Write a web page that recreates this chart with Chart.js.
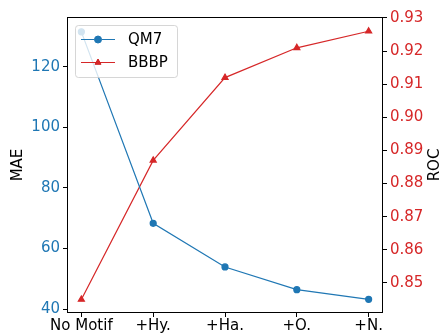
<!DOCTYPE html>
<html>
<head>
<meta charset="utf-8">
<script src="https://cdn.jsdelivr.net/npm/chart.js@4"></script>
<style>
  html, body { margin: 0; padding: 0; background: #fff; }
  #wrap { width: 442px; height: 333px; }
</style>
</head>
<body>
<div id="wrap"><canvas id="chart" width="442" height="333"></canvas></div>
<script>
// data
const categories = ['No Motif', '+Hy.', '+Ha.', '+O.', '+N.'];
const qm7Mae = [131.5, 68.3, 53.9, 46.4, 43.2];
const bbbpRoc = [0.845, 0.887, 0.912, 0.921, 0.926];
const maeTicks = [40, 60, 80, 100, 120];
const rocTicks = [0.85, 0.86, 0.87, 0.88, 0.89, 0.90, 0.91, 0.92, 0.93];

const blue = '#1f77b4';
const red = '#d62728';
const font = 'DejaVu Sans';

// frame, axis titles and legend drawn like matplotlib
const framePlugin = {
    id: 'frame',
    afterDatasetsDraw(chart) {
        const ctx = chart.ctx;
        const a = chart.chartArea;
        ctx.save();
        ctx.strokeStyle = '#000';
        ctx.lineWidth = 1;
        ctx.strokeRect(a.left + 0.5, a.top + 0.5, a.right - a.left - 1, a.bottom - a.top - 1);

        // axis titles, both reading bottom to top
        ctx.fillStyle = '#000';
        ctx.font = '15px ' + font;
        ctx.textAlign = 'center';
        ctx.textBaseline = 'middle';
        [['MAE', 18], ['ROC', 435]].forEach(([t, tx]) => {
            ctx.save();
            ctx.translate(tx, (a.top + a.bottom) / 2);
            ctx.rotate(-Math.PI / 2);
            ctx.fillText(t, 0, 0);
            ctx.restore();
        });

        // legend box
        const x = 75.5, y = 25.5, w = 102, h = 52;
        ctx.globalAlpha = 0.8;
        ctx.fillStyle = '#fff';
        ctx.strokeStyle = '#ccc';
        ctx.beginPath();
        ctx.roundRect(x, y, w, h, 3);
        ctx.fill();
        ctx.stroke();
        ctx.globalAlpha = 1;

        const items = [
            { label: 'QM7', color: blue, style: 'circle', yy: 39.5 },
            { label: 'BBBP', color: red, style: 'triangle', yy: 62.5 }
        ];
        items.forEach(it => {
            ctx.strokeStyle = it.color;
            ctx.lineWidth = 1;
            ctx.beginPath();
            ctx.moveTo(81, it.yy);
            ctx.lineTo(115, it.yy);
            ctx.stroke();
            Chart.helpers.drawPoint(ctx, {
                pointStyle: it.style, radius: 3.5, borderWidth: 1
            }, 98, it.yy);
            ctx.fillStyle = it.color;
            ctx.fill();
            ctx.fillStyle = '#000';
            ctx.font = '15px ' + font;
            ctx.textBaseline = 'middle';
            ctx.textAlign = 'left';
            ctx.fillText(it.label, 128, it.yy + 1);
        });
        ctx.restore();
    }
};

new Chart(document.getElementById('chart'), {
    type: 'line',
    data: {
        datasets: [{
            label: 'QM7',
            data: qm7Mae.map((v, i) => ({ x: i, y: v })),
            borderColor: blue,
            backgroundColor: blue,
            borderWidth: 1.2,
            pointStyle: 'circle',
            pointRadius: 3,
            yAxisID: 'y'
        }, {
            label: 'BBBP',
            data: bbbpRoc.map((v, i) => ({ x: i, y: v })),
            borderColor: red,
            backgroundColor: red,
            borderWidth: 1.2,
            pointStyle: 'triangle',
            pointRadius: 3.5,
            yAxisID: 'y1'
        }]
    },
    options: {
        responsive: false,
        animation: false,
        layout: { padding: { top: 17, left: 0, right: 0, bottom: 0 } },
        plugins: { legend: { display: false }, tooltip: { enabled: false } },
        scales: {
            x: {
                type: 'linear',
                min: -0.2,
                max: 4.2,
                afterBuildTicks(scale) {
                    scale.ticks = categories.map((c, i) => ({ value: i }));
                },
                afterFit(scale) { scale.height = 20; },
                ticks: {
                    callback: v => categories[v],
                    color: '#000',
                    font: { family: font, size: 15 },
                    padding: 0,
                    maxRotation: 0,
                    autoSkip: false
                },
                grid: { drawOnChartArea: false, drawTicks: true, tickLength: 4, color: '#000' },
                border: { display: false }
            },
            y: {
                position: 'left',
                min: 38.7,
                max: 136.4,
                afterBuildTicks(scale) {
                    scale.ticks = maeTicks.map(v => ({ value: v }));
                },
                afterFit(scale) { scale.width = 67; },
                ticks: {
                    color: blue,
                    font: { family: font, size: 15 },
                    padding: 3
                },
                grid: { drawOnChartArea: false, drawTicks: true, tickLength: 4, color: '#000' },
                border: { display: false }
            },
            y1: {
                position: 'right',
                min: 0.8409,
                max: 0.9303,
                afterBuildTicks(scale) {
                    scale.ticks = rocTicks.map(v => ({ value: v }));
                },
                afterFit(scale) { scale.width = 59; },
                ticks: {
                    color: red,
                    font: { family: font, size: 15 },
                    padding: 3,
                    callback: v => v.toFixed(2)
                },
                grid: { drawOnChartArea: false, drawTicks: true, tickLength: 4, color: '#000' },
                border: { display: false }
            }
        }
    },
    plugins: [framePlugin]
});
</script>
</body>
</html>
